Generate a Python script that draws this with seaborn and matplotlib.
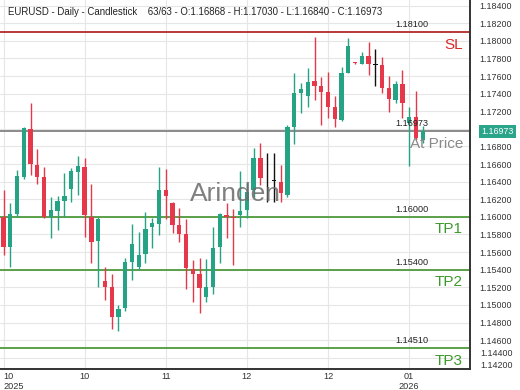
import numpy as np
import seaborn as sns
import matplotlib
matplotlib.use('Agg')
import matplotlib.pyplot as plt
import matplotlib.transforms as mtransforms

# daily EURUSD candles
opens = [1.16002, 1.15661, 1.16032, 1.16449, 1.16998, 1.16586, 1.16449, 1.15995, 1.16070, 1.16180,
         1.16313, 1.16513, 1.16570, 1.16002, 1.15729, 1.15275, 1.15200, 1.14866, 1.14961, 1.15491,
         1.15434, 1.15575, 1.15881, 1.15919, 1.16305, 1.16154, 1.15908, 1.15805, 1.15408, 1.15348,
         1.15086, 1.15207, 1.15654, 1.16021, 1.16002, 1.16021, 1.16078, 1.16305, 1.16665, 1.16427,
         1.16411, 1.16399, 1.16248, 1.17017, 1.17410, 1.17373, 1.17540, 1.17490, 1.17422, 1.17245,
         1.17100, 1.17638, 1.17754, 1.17736, 1.17831, 1.17725, 1.17725, 1.17460, 1.17328, 1.17506,
         1.17063, 1.17138, 1.16868]
closes = [1.15661, 1.16032, 1.16464, 1.17006, 1.16600, 1.16449, 1.15995, 1.16078, 1.16180, 1.16237,
          1.16521, 1.16578, 1.16021, 1.15718, 1.15972, 1.15200, 1.14862, 1.14957, 1.15484, 1.15688,
          1.15567, 1.15859, 1.15927, 1.16305, 1.16240, 1.15908, 1.15805, 1.15416, 1.15348, 1.15195,
          1.15207, 1.15643, 1.16032, 1.15995, 1.15987, 1.16070, 1.16286, 1.16665, 1.16438, 1.16427,
          1.16411, 1.16268, 1.17017, 1.17410, 1.17452, 1.17529, 1.17490, 1.17422, 1.17245, 1.17112,
          1.17638, 1.17941, 1.17744, 1.17827, 1.17733, 1.17725, 1.17467, 1.17335, 1.17506, 1.17290,
          1.17138, 1.16892, 1.16973]
highs = [1.16305, 1.16161, 1.16532, 1.17017, 1.17290, 1.16774, 1.16563, 1.16229, 1.16237, 1.16495,
         1.16552, 1.16691, 1.16665, 1.16373, 1.16002, 1.15434, 1.15351, 1.14999, 1.15529, 1.15919,
         1.15831, 1.16059, 1.15984, 1.16563, 1.16544, 1.16169, 1.16097, 1.15972, 1.15510, 1.15536,
         1.15518, 1.15881, 1.16047, 1.16154, 1.16095, 1.16524, 1.16381, 1.16779, 1.16836, 1.16729,
         1.16722, 1.16589, 1.17044, 1.17638, 1.17517, 1.17694, 1.18040, 1.17585, 1.17642, 1.17376,
         1.17706, 1.18028, 1.17763, 1.17869, 1.17983, 1.17903, 1.17813, 1.17600, 1.17543, 1.17668,
         1.17245, 1.17430, 1.17030]
lows = [1.15567, 1.15434, 1.16002, 1.16427, 1.16476, 1.16373, 1.15984, 1.15756, 1.15851, 1.16002,
        1.16172, 1.16248, 1.15775, 1.15472, 1.15207, 1.15056, 1.14723, 1.14703, 1.14934, 1.15283,
        1.15396, 1.15472, 1.15643, 1.15794, 1.15978, 1.15813, 1.15718, 1.15180, 1.15029, 1.14911,
        1.15029, 1.15124, 1.15472, 1.15756, 1.15448, 1.15888, 1.15984, 1.16229, 1.16362, 1.16172,
        1.16172, 1.16172, 1.16229, 1.16828, 1.17183, 1.17251, 1.17328, 1.17044, 1.17120, 1.17017,
        1.17092, 1.17631, 1.17739, 1.17733, 1.17612, 1.17490, 1.17410, 1.17195, 1.17297, 1.17120,
        1.16578, 1.16873, 1.16840]
doji_idx = [39, 40, 55]

month_ticks = [0, 12, 24, 36, 48, 60]
month_labels = ['10\n2025', '10', '11', '12', '12', '01\n2026']

last_price = 1.16973
level_names = ['SL', 'TP1', 'TP2', 'TP3']
level_values = [1.18100, 1.16000, 1.15400, 1.14510]
level_colors = ['#b22a2a', '#4f9a3c', '#4f9a3c', '#4f9a3c']
tag_colors = ['#d9292b', '#3c9a2a', '#3c9a2a', '#3c9a2a']

ytick_values = [round(1.146 + 0.002 * i, 3) for i in range(20)]
# bottom labels are squeezed against the axis edge in the source chart
low_labels = ['1.14400', '1.14200']

GREEN = '#26a384'
RED = '#e5384a'

sns.set_theme(style='whitegrid')
plt.rcParams['font.family'] = ['Liberation Sans', 'DejaVu Sans']

fig = plt.figure(figsize=(5.2, 3.9), dpi=100)
ax = fig.add_axes([0, 21 / 390, 470 / 520, 369 / 390])

x = np.arange(len(opens))
o = np.array(opens)
c = np.array(closes)
colors = [GREEN if cc > oo else RED for oo, cc in zip(o, c)]
for i in doji_idx:
    colors[i] = '#111111'

bottoms = np.minimum(o, c)
heights = np.maximum(np.abs(c - o), 0.00007)
ax.vlines(x, lows, highs, colors=colors, lw=1.0, zorder=3)
ax.bar(x, heights, bottom=bottoms, width=0.64, color=colors, linewidth=0, zorder=4)

ax.set_xlim(-0.52, 69.0)
ax.set_ylim(1.14272, 1.18464)

# level lines with price text and tag
for name, val, lc, tc in zip(level_names, level_values, level_colors, tag_colors):
    ax.axhline(val, color=lc, lw=1.3, zorder=2)
    ax.annotate(f'{val:.5f}', xy=(0.877, val), xycoords=ax.get_yaxis_transform(),
                xytext=(0, 2), textcoords='offset points', ha='center', va='bottom',
                fontsize=6.6, color='#222222', zorder=6)
    ax.annotate(name, xy=(0.985, val), xycoords=ax.get_yaxis_transform(),
                xytext=(0, -4), textcoords='offset points', ha='right', va='top',
                fontsize=11, color=tc, zorder=6)

ax.axhline(last_price, color='#777777', lw=1.2, zorder=2)
ax.annotate(f'{last_price:.5f}', xy=(0.877, last_price), xycoords=ax.get_yaxis_transform(),
            xytext=(0, 2), textcoords='offset points', ha='center', va='bottom',
            fontsize=6.6, color='#222222', zorder=6)
ax.annotate('At Price', xy=(0.985, last_price), xycoords=ax.get_yaxis_transform(),
            xytext=(0, -4), textcoords='offset points', ha='right', va='top',
            fontsize=11, color='#8a8a8a', zorder=6)

ax.text(0.5, 0.475, 'Arinden', transform=ax.transAxes, ha='center', va='center',
        fontsize=19, color='#6a6a6a', alpha=0.85, zorder=5)

ax.text(0.016, 0.967, 'EURUSD - Daily - Candlestick    63/63 - O:1.16868 - H:1.17030 - L:1.16840 - C:1.16973',
        transform=ax.transAxes, ha='left', va='center', fontsize=6.9, color='#222222', zorder=6)

# axes, ticks, grid
ax.yaxis.tick_right()
ax.set_yticks(ytick_values)
ax.set_yticklabels([f'{v:.5f}' for v in ytick_values])
ax.set_xticks(month_ticks)
ax.set_xticklabels(month_labels)
ax.get_xticklabels()[0].set_ha('left')
ax.tick_params(axis='y', length=0, pad=7, labelsize=6.4, labelcolor='#333333')
ax.tick_params(axis='x', length=0, pad=2, labelsize=6.6, labelcolor='#333333')
ax.grid(True, color='#e6e6e6', lw=0.8)
ax.axhline(1.144, color='#e6e6e6', lw=0.8, zorder=0)
ax.set_axisbelow(True)
for side in ['top', 'left']:
    ax.spines[side].set_visible(False)
for side in ['right', 'bottom']:
    ax.spines[side].set_visible(True)
    ax.spines[side].set_color('#333333')
    ax.spines[side].set_linewidth(1.4)

trans = mtransforms.blended_transform_factory(ax.transAxes, ax.transAxes)
for lab, ypos in zip(low_labels, [15.5 / 369, 4.0 / 369]):
    ax.text(1.0 + 10 / 470, ypos, lab, transform=trans, ha='left', va='center',
            fontsize=6.4, color='#333333', clip_on=False)

# current price box on the axis
ax.annotate(f'{last_price:.5f}', xy=(1.0, last_price), xycoords=ax.get_yaxis_transform(),
            xytext=(8, 0), textcoords='offset points', ha='left', va='center',
            fontsize=6.4, color='white', annotation_clip=False,
            bbox=dict(boxstyle='square,pad=0.25', fc='#2aa58a', ec='none'))

fig.savefig('out.png', dpi=100, facecolor='white')
